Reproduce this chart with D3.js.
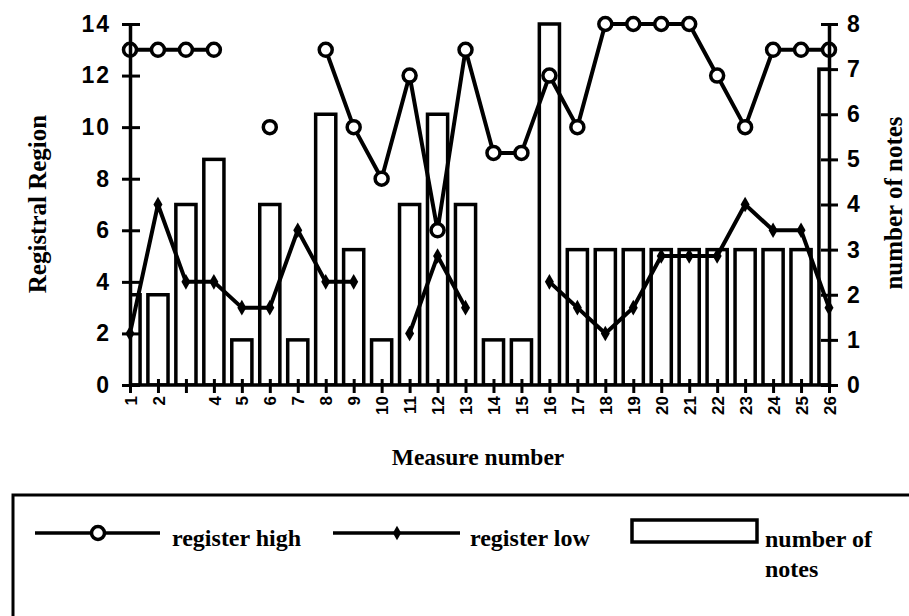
<!DOCTYPE html>
<html>
<head>
<meta charset="utf-8">
<script src="https://cdn.jsdelivr.net/npm/d3@7"></script>
<style>
  html, body { margin: 0; padding: 0; background: #fff; }
  svg { display: block; }
</style>
</head>
<body>
<svg id="chart" width="909" height="616"></svg>
<script>
// ---- data ----
const measures = d3.range(1, 27);
const xTickLabels = ["1","2","","4","5","6","7","8","9","10","11","12","13","14","15","16","17","18","19","20","21","22","23","24","25","26"];
const registerHigh = [13,13,13,13,null,10,null,13,10,8,12,6,13,9,9,12,10,14,14,14,14,12,10,13,13,13];
const registerLow  = [2,7,4,4,3,3,6,4,4,null,2,5,3,null,null,4,3,2,3,5,5,5,7,6,6,3];
const numberOfNotes = [2,2,4,5,1,4,1,6,3,1,4,6,4,1,1,8,3,3,3,3,3,3,3,3,3,7];
const leftTicks = [0,2,4,6,8,10,12,14];
const rightTicks = [0,1,2,3,4,5,6,7,8];

const svg = d3.select("#chart");
const L = 130, R = 829, T = 24, B = 385;

const x = d3.scalePoint().domain(measures).range([L, R]);
const yL = d3.scaleLinear().domain([0, 14]).range([B, T]);
const yR = d3.scaleLinear().domain([0, 8]).range([B, T]);

const sans = "'Liberation Sans', Arial, Helvetica, sans-serif";
const serif = "'Liberation Serif', 'Times New Roman', Times, serif";

svg.append("defs").append("clipPath").attr("id", "plotclip")
  .append("rect").attr("x", L).attr("y", 0).attr("width", R - L).attr("height", B);

// ---- bars ----
const bw = x.step() * 0.72;
svg.append("g").attr("clip-path", "url(#plotclip)")
  .selectAll("rect").data(numberOfNotes).join("rect")
  .attr("x", (d, i) => x(measures[i]) - bw / 2)
  .attr("y", d => yR(d))
  .attr("width", bw)
  .attr("height", d => yR(0) - yR(d))
  .attr("fill", "#fff")
  .attr("stroke", "#000")
  .attr("stroke-width", 3.5);

// ---- lines ----
const lineHigh = d3.line().defined(d => d != null)
  .x((d, i) => x(measures[i])).y(d => yL(d));
const lineLow = d3.line().defined(d => d != null)
  .x((d, i) => x(measures[i])).y(d => yL(d));

svg.append("path").datum(registerLow).attr("d", lineLow)
  .attr("fill", "none").attr("stroke", "#000").attr("stroke-width", 4)
  .attr("stroke-linejoin", "round");

svg.append("g").selectAll("path")
  .data(registerLow.map((d, i) => ({ d, i })).filter(o => o.d != null))
  .join("path")
  .attr("d", d3.symbol(d3.symbolDiamond, 70)())
  .attr("transform", o => `translate(${x(measures[o.i])},${yL(o.d)})`)
  .attr("fill", "#000");

svg.append("path").datum(registerHigh).attr("d", lineHigh)
  .attr("fill", "none").attr("stroke", "#000").attr("stroke-width", 4)
  .attr("stroke-linejoin", "round");

svg.append("g").selectAll("circle")
  .data(registerHigh.map((d, i) => ({ d, i })).filter(o => o.d != null))
  .join("circle")
  .attr("cx", o => x(measures[o.i]))
  .attr("cy", o => yL(o.d))
  .attr("r", 6.5)
  .attr("fill", "#fff")
  .attr("stroke", "#000")
  .attr("stroke-width", 3.5);

// ---- axes ----
const gL = svg.append("g").attr("transform", `translate(${L},0)`)
  .call(d3.axisLeft(yL).tickValues(leftTicks).tickSize(8).tickSizeOuter(0).tickPadding(20));
gL.select(".domain").attr("stroke-width", 3.5);
gL.selectAll(".tick line").attr("x1", -8).attr("x2", 10).attr("stroke-width", 3);
gL.selectAll(".tick text").attr("font-family", sans).attr("font-weight", "bold")
  .attr("font-size", 23).attr("letter-spacing", 2).attr("x", -19);

const gR = svg.append("g").attr("transform", `translate(${R},0)`)
  .call(d3.axisRight(yR).tickValues(rightTicks).tickSize(8).tickSizeOuter(0));
gR.select(".domain").attr("stroke-width", 3.5);
gR.selectAll(".tick line").attr("x1", -8).attr("x2", 9).attr("stroke-width", 3);
gR.selectAll(".tick text").attr("font-family", sans).attr("font-weight", "bold")
  .attr("font-size", 23).attr("x", 18);

const gB = svg.append("g").attr("transform", `translate(0,${B})`)
  .call(d3.axisBottom(x).tickSize(8).tickSizeOuter(0).tickFormat((d, i) => xTickLabels[i]));
gB.select(".domain").attr("stroke-width", 3.5).attr("d", `M${L},0H${R}`);
gB.selectAll(".tick line").attr("y1", -6).attr("y2", 8).attr("stroke-width", 3);
gB.selectAll(".tick text")
  .attr("font-family", sans).attr("font-weight", "bold").attr("font-size", 17)
  .attr("transform", "rotate(-90)")
  .attr("text-anchor", "end")
  .attr("x", -11).attr("y", 0).attr("dy", "0.36em");

svg.selectAll(".domain").attr("stroke", "#000");

// ---- titles ----
svg.append("text")
  .attr("transform", "translate(46,204) rotate(-90)")
  .attr("text-anchor", "middle")
  .attr("font-family", serif).attr("font-weight", "bold").attr("font-size", 25)
  .text("Registral Region");

svg.append("text")
  .attr("transform", "translate(902,203) rotate(-90)")
  .attr("text-anchor", "middle")
  .attr("font-family", serif).attr("font-weight", "bold").attr("font-size", 25)
  .text("number of notes");

svg.append("text")
  .attr("x", 478).attr("y", 465)
  .attr("text-anchor", "middle")
  .attr("font-family", serif).attr("font-weight", "bold").attr("font-size", 23.5)
  .text("Measure number");

// ---- legend ----
const lg = svg.append("g");
lg.append("rect").attr("x", 13).attr("y", 495).attr("width", 950).attr("height", 200)
  .attr("fill", "none").attr("stroke", "#000").attr("stroke-width", 3);

lg.append("line").attr("x1", 35).attr("x2", 160).attr("y1", 533).attr("y2", 533)
  .attr("stroke", "#000").attr("stroke-width", 3.5);
lg.append("circle").attr("cx", 98).attr("cy", 533).attr("r", 6.5)
  .attr("fill", "#fff").attr("stroke", "#000").attr("stroke-width", 3.5);
lg.append("text").attr("x", 172).attr("y", 546)
  .attr("font-family", serif).attr("font-weight", "bold").attr("font-size", 24)
  .text("register high");

lg.append("line").attr("x1", 333).attr("x2", 460).attr("y1", 533).attr("y2", 533)
  .attr("stroke", "#000").attr("stroke-width", 3.5);
lg.append("path").attr("d", d3.symbol(d3.symbolDiamond, 60)())
  .attr("transform", "translate(397,533)").attr("fill", "#000");
lg.append("text").attr("x", 470).attr("y", 546)
  .attr("font-family", serif).attr("font-weight", "bold").attr("font-size", 24)
  .text("register low");

lg.append("rect").attr("x", 632).attr("y", 520).attr("width", 125).attr("height", 22)
  .attr("fill", "#fff").attr("stroke", "#000").attr("stroke-width", 3.5);
lg.append("text").attr("x", 765).attr("y", 547)
  .attr("font-family", serif).attr("font-weight", "bold").attr("font-size", 24)
  .text("number of");
lg.append("text").attr("x", 765).attr("y", 577)
  .attr("font-family", serif).attr("font-weight", "bold").attr("font-size", 24)
  .text("notes");
</script>
</body>
</html>
